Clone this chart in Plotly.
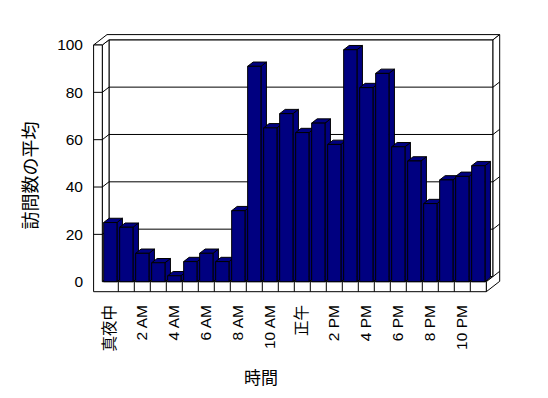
import plotly.graph_objects as go

# ---- data ----
hours = list(range(24))
visits = [25, 23, 12, 8, 2.5, 8.5, 12, 8.5, 30, 91, 65, 71,
          63, 67, 58, 98, 82, 88, 57, 51, 33, 43, 44.5, 49]
x_tick_pos = [0, 2, 4, 6, 8, 10, 12, 14, 16, 18, 20, 22]
x_tick_text = ["真夜中", "2 AM", "4 AM", "6 AM", "8 AM", "10 AM",
               "正午", "2 PM", "4 PM", "6 PM", "8 PM", "10 PM"]
y_ticks = [0, 20, 40, 60, 80, 100]
x_title = "時間"
y_title = "訪問数の平均"

# ---- layout geometry (pixels) ----
W, H = 548, 398
L, R, T, B = 90, 505, 30, 295
PX_X, PX_Y = 16.0, 2.367
X0_PX, Y0_PX = 102.3, 281.7
x_range = [-0.5 + (L - X0_PX) / PX_X, -0.5 + (R - X0_PX) / PX_X]
y_range = [(Y0_PX - B) / PX_Y, (Y0_PX - T) / PX_Y]

DX, DY = 6.7 / PX_X, 5.2 / PX_Y          # depth step (one unit of z)
WALL_T = 8.7 / PX_X                      # left wall thickness (x units)
FLOOR_T = 10.0 / PX_Y                    # floor thickness (y units)
XL, XR = -0.5, len(hours) - 0.5
YMAX = y_ticks[-1]
BAR_W = 0.83
BAR_D = 0.82

NAVY = "#000080"


def P(x, y, z):
    return (x + z * DX, y + z * DY)


def poly(pts, fill, layer="below"):
    path = "M " + " L ".join(f"{x:.4f},{y:.4f}" for x, y in pts) + " Z"
    return dict(type="path", xref="x", yref="y", path=path, fillcolor=fill,
                line=dict(color="black", width=1), layer=layer)


def seg(a, b):
    return dict(type="line", xref="x", yref="y", x0=a[0], y0=a[1], x1=b[0], y1=b[1],
                line=dict(color="black", width=1), layer="below")


shapes = []
# back wall front face
shapes.append(poly([P(XL, 0, 1), P(XR, 0, 1), P(XR, YMAX, 1), P(XL, YMAX, 1)], "white"))
# floor top
shapes.append(poly([P(XL, 0, 0), P(XR, 0, 0), P(XR, 0, 1), P(XL, 0, 1)], "white"))
# left wall inner face
shapes.append(poly([P(XL, 0, 0), P(XL, YMAX, 0), P(XL, YMAX, 1), P(XL, 0, 1)], "white"))
# top of walls
shapes.append(poly([P(XL - WALL_T, YMAX, 0), P(XL, YMAX, 0), P(XL, YMAX, 1), P(XR, YMAX, 1),
                    P(XR, YMAX, 2), P(XL - WALL_T, YMAX, 2)], "white"))
# right side of back wall + floor
shapes.append(poly([P(XR, -FLOOR_T, 0), P(XR, 0, 0), P(XR, 0, 1), P(XR, YMAX, 1),
                    P(XR, YMAX, 2), P(XR, -FLOOR_T, 2)], "white"))
# front L face (left wall + floor slab)
shapes.append(poly([P(XL - WALL_T, YMAX, 0), P(XL - WALL_T, -FLOOR_T, 0), P(XR, -FLOOR_T, 0),
                    P(XR, 0, 0), P(XL, 0, 0), P(XL, YMAX, 0)], "white"))
# floor ticks
for i in hours[:-1]:
    shapes.append(seg(P(i + 0.5, 0, 0), P(i + 0.5, -FLOOR_T, 0)))
# gridlines
for v in y_ticks[1:-1]:
    shapes.append(seg(P(XL - WALL_T, v, 0), P(XL, v, 0)))
    shapes.append(seg(P(XL, v, 0), P(XL, v, 1)))
    shapes.append(seg(P(XL, v, 1), P(XR, v, 1)))
    shapes.append(seg(P(XR, v, 1), P(XR, v, 2)))
shapes.append(seg(P(XR, 0, 1), P(XR, 0, 2)))

# bar side and top faces
for i, v in zip(hours, visits):
    xl, xr = i - BAR_W / 2, i + BAR_W / 2
    shapes.append(poly([P(xr, 0, 0), P(xr, v, 0), P(xr, v, BAR_D), P(xr, 0, BAR_D)], NAVY))
    shapes.append(poly([P(xl, v, 0), P(xr, v, 0), P(xr, v, BAR_D), P(xl, v, BAR_D)], NAVY))

fig = go.Figure()
fig.add_trace(go.Bar(x=hours, y=visits, width=BAR_W,
                     marker=dict(color=NAVY, line=dict(color="black", width=1)),
                     hoverinfo="skip"))

FONT = "Liberation Sans, Arial, Noto Sans CJK JP, sans-serif"
CJK = "Noto Sans CJK JP, sans-serif"

fig.update_layout(
    width=W, height=H,
    margin=dict(l=L, r=W - R, t=T, b=H - B, pad=0),
    paper_bgcolor="white", plot_bgcolor="white",
    showlegend=False,
    shapes=shapes,
    font=dict(family=FONT, size=15, color="black"),
    xaxis=dict(range=x_range, showgrid=False, zeroline=False, showline=False,
               tickmode="array", tickvals=x_tick_pos, ticktext=x_tick_text,
               tickangle=-90, ticks="", ticklabelstandoff=6,
               tickfont=dict(family=FONT, size=15.5)),
    yaxis=dict(range=y_range, showgrid=False, zeroline=False, showline=False,
               tickmode="array", tickvals=y_ticks, ticks="", ticklabelstandoff=6,
               tickfont=dict(family=FONT, size=15.5)),
    annotations=[
        dict(text=x_title, xref="paper", yref="paper",
             x=(260.5 - L) / (R - L), y=(B - 376) / (B - T),
             xanchor="center", yanchor="middle", showarrow=False,
             font=dict(family=CJK, size=17)),
        dict(text=y_title, xref="paper", yref="paper",
             x=(28 - L) / (R - L), y=(B - 175.5) / (B - T),
             xanchor="center", yanchor="middle", showarrow=False, textangle=-90,
             font=dict(family=CJK, size=18)),
    ],
)

fig.write_html("out.html")
